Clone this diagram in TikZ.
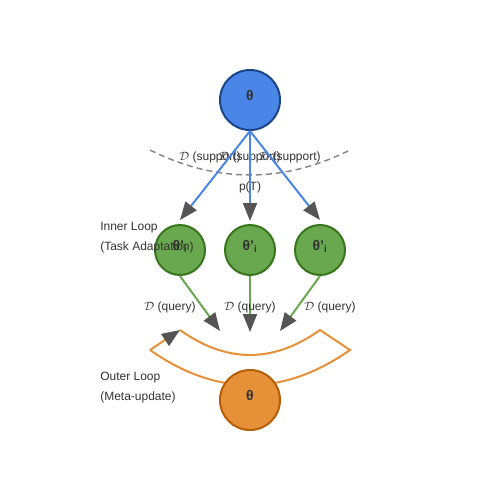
\documentclass[tikz,border=0pt]{standalone}
\usepackage{fontspec}
\setmainfont{Liberation Sans}
\usetikzlibrary{arrows.meta}
\definecolor{txt}{HTML}{333333}
\definecolor{bfill}{HTML}{4A86E8}
\definecolor{bdraw}{HTML}{1C4587}
\definecolor{gfill}{HTML}{6AA84F}
\definecolor{gdraw}{HTML}{38761D}
\definecolor{ofill}{HTML}{E69138}
\definecolor{odraw}{HTML}{B45F06}
\definecolor{tipc}{HTML}{555555}
\definecolor{dashc}{HTML}{888888}
\tikzset{
  lbl/.style={font=\fontsize{9pt}{10pt}\selectfont, text=txt, anchor=base, inner sep=0pt},
  lbll/.style={lbl, anchor=base west},
  param/.style={circle, line width=1.5pt, inner sep=0pt},
  plbl/.style={lbl, font=\fontsize{10.5pt}{12pt}\selectfont\bfseries},
  tip/.style={-{Triangle[length=13.5pt,width=10.5pt,color=tipc]}},
  conn/.style={line width=1.5pt, tip},
}
\begin{document}
\begin{tikzpicture}[x=0.75pt,y=-0.75pt]
\useasboundingbox (0,0) rectangle (500,500);
% dashed distribution arc
\draw[dashc, line width=1.1pt, dash pattern=on 4.5pt off 3pt] (150,150) .. controls (216.7,183.3) and (283.3,183.3) .. (350,150);
% top parameter
\node[param, fill=bfill, draw=bdraw, minimum size=45pt] (top) at (250,100) {};
\node[plbl] (toplbl) at (250,100) {θ};
% support labels
\node[lbl] (s1) at (210,160) {$\mathcal{D}$ (support)};
\node[lbl] (s2) at (250,160) {$\mathcal{D}$ (support)};
\node[lbl] (s3) at (290,160) {$\mathcal{D}$ (support)};
\node[lbl] (pt) at (250,190) {p(T)};
% inner nodes
\node[param, fill=gfill, draw=gdraw, minimum size=37.5pt] (g1) at (180,250) {};
\node[param, fill=gfill, draw=gdraw, minimum size=37.5pt] (g2) at (250,250) {};
\node[param, fill=gfill, draw=gdraw, minimum size=37.5pt] (g3) at (320,250) {};
\node[plbl] (g1l) at (180,250) {θ'\textsubscript{i}};
\node[plbl] (g2l) at (250,250) {θ'\textsubscript{i}};
\node[plbl] (g3l) at (320,250) {θ'\textsubscript{i}};
% tips of adaptation arrows
\coordinate (a1) at (180,220);
\coordinate (a2) at (250,221);
\coordinate (a3) at (320,220);
\draw[conn, bfill] (top.south) -- (a1);
\draw[conn, bfill] (top.south) -- (a2);
\draw[conn, bfill] (top.south) -- (a3);
% query arrows
\coordinate (q1) at (220,331);
\coordinate (q2) at (250,332);
\coordinate (q3) at (280,331);
\draw[conn, gfill] (g1.south) -- (q1);
\draw[conn, gfill] (g2.south) -- (q2);
\draw[conn, gfill] (g3.south) -- (q3);
\node[lbl] (ql1) at (170,310) {$\mathcal{D}$ (query)};
\node[lbl] (ql2) at (250,310) {$\mathcal{D}$ (query)};
\node[lbl] (ql3) at (330,310) {$\mathcal{D}$ (query)};
% inner loop label
\node[lbll] (il1) at (100,230) {Inner Loop};
\node[lbll] (il2) at (100,250) {(Task Adaptation)};
% outer loop band
\coordinate (b1) at (180,330);
\coordinate (b2) at (320,330);
\coordinate (b3) at (350,350);
\coordinate (b4) at (150,350);
\draw[ofill, line width=1.5pt, line join=miter] (b1) .. controls (226.7,363.3) and (273.3,363.3) .. (b2) -- (b3) .. controls (283.3,396.7) and (216.7,396.7) .. (b4);
\draw[ofill, line width=1.5pt, tip] (b4) -- (b1);
% bottom parameter
\node[param, fill=ofill, draw=odraw, minimum size=45pt] (bot) at (250,400) {};
\node[plbl] (botlbl) at (250,400) {θ};
\node[lbll] (ol1) at (100,380) {Outer Loop};
\node[lbll] (ol2) at (100,400) {(Meta-update)};
\end{tikzpicture}
\end{document}
